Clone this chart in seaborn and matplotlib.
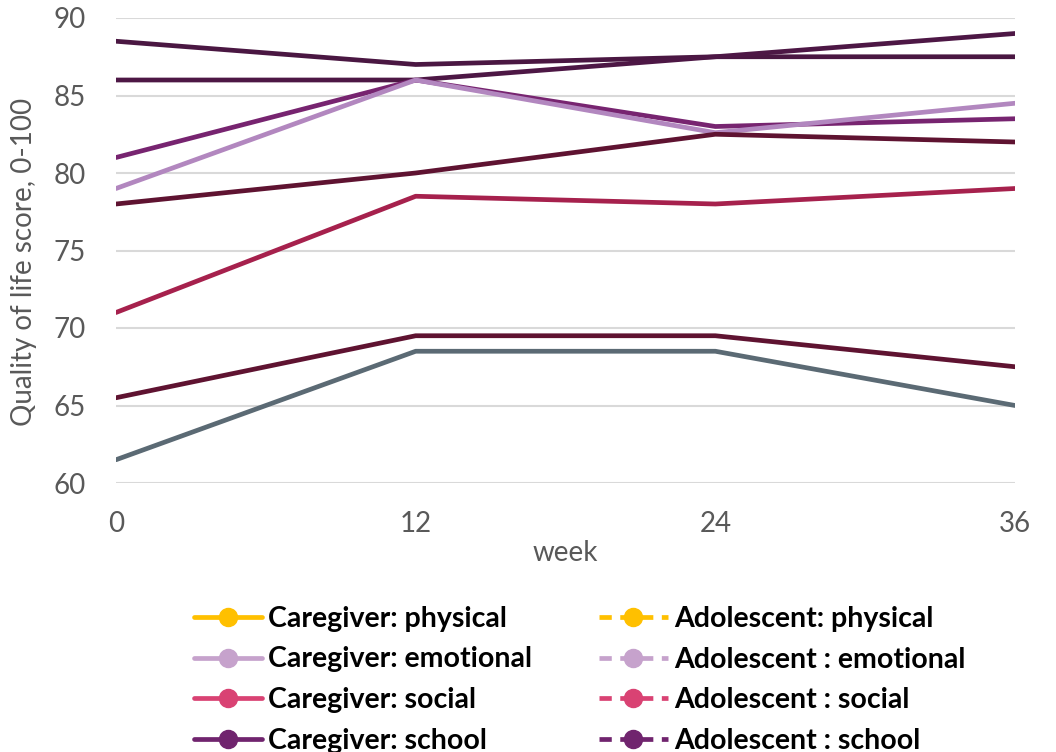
import matplotlib
matplotlib.use("Agg")
import matplotlib.pyplot as plt
from matplotlib.lines import Line2D
import seaborn as sns
import pandas as pd

weeks = [0, 12, 24, 36]
series_names = ["s1", "s2", "s3", "s4", "s5", "s6", "s7", "s8"]
s1 = [88.5, 87.0, 87.5, 87.5]
s2 = [86.0, 86.0, 87.5, 89.0]
s3 = [81.0, 86.0, 83.0, 83.5]
s4 = [79.0, 86.0, 82.6, 84.5]
s5 = [78.0, 80.0, 82.5, 82.0]
s6 = [71.0, 78.5, 78.0, 79.0]
s7 = [65.5, 69.5, 69.5, 67.5]
s8 = [61.5, 68.5, 68.5, 65.0]
series_values = [s1, s2, s3, s4, s5, s6, s7, s8]
line_colors = ["#4a1742", "#4d1745", "#772470", "#b287bf",
               "#5f1331", "#a6214d", "#5f1331", "#5b6a74"]

legend_labels = ["Caregiver: physical", "Caregiver: emotional",
                 "Caregiver: social", "Caregiver: school",
                 "Adolescent: physical", "Adolescent : emotional",
                 "Adolescent : social", "Adolescent : school"]
legend_colors = ["#FFC000", "#C6A2CC", "#D94273", "#70246E",
                 "#FFC000", "#C6A2CC", "#D94273", "#70246E"]
legend_styles = ["-", "-", "-", "-", "--", "--", "--", "--"]

rows = []
for name, vals in zip(series_names, series_values):
    for w, v in zip(weeks, vals):
        rows.append({"week": w, "score": v, "series": name})
df = pd.DataFrame(rows)

sns.set_theme(style="white")
plt.rcParams["font.family"] = ["Lato", "DejaVu Sans"]

fig = plt.figure(figsize=(10.56, 7.52), dpi=100)
ax = fig.add_axes([116/1056, 1 - 483/752, (1015-116)/1056, (483-18)/752])

sns.lineplot(data=df, x="week", y="score", hue="series",
             palette=dict(zip(series_names, line_colors)),
             linewidth=3.4, legend=False, ax=ax, sort=False)

ax.set_xlim(0, 36)
ax.set_ylim(60, 90)
ax.set_xticks(weeks)
ax.set_yticks([60, 65, 70, 75, 80, 85, 90])
ax.grid(axis="y", color="#d9d9d9", linewidth=1.5)
ax.set_axisbelow(True)
for sp in ax.spines.values():
    sp.set_visible(False)
ax.tick_params(axis="both", length=0, labelsize=20, colors="#595959")
ax.tick_params(axis="y", pad=22)
ax.tick_params(axis="x", pad=20)
ax.set_xlabel("week", fontsize=20, color="#595959", labelpad=2)
ax.set_ylabel("Quality of life score, 0-100", fontsize=20, color="#595959")
ax.yaxis.set_label_coords(-0.088, 0.475)

handles = [Line2D([0], [0], color=c, linestyle=ls, linewidth=3.4,
                  marker="o", markersize=13, markerfacecolor=c, markeredgecolor=c)
           for c, ls in zip(legend_colors, legend_styles)]
for h, ls in zip(handles, legend_styles):
    if ls == "--":
        h.set_dashes((2.6, 1.8))
leg = fig.legend(handles, legend_labels, ncol=2, loc="upper left",
                 bbox_to_anchor=(188/1056, 1 - 600/752), frameon=False,
                 prop={"size": 20.5, "weight": "bold"}, handlelength=2.4,
                 handletextpad=0.22, columnspacing=2.35, labelspacing=0.52,
                 borderaxespad=0, borderpad=0.2)
for t in leg.get_texts():
    t.set_color("black")

fig.savefig("out.png", dpi=100)
